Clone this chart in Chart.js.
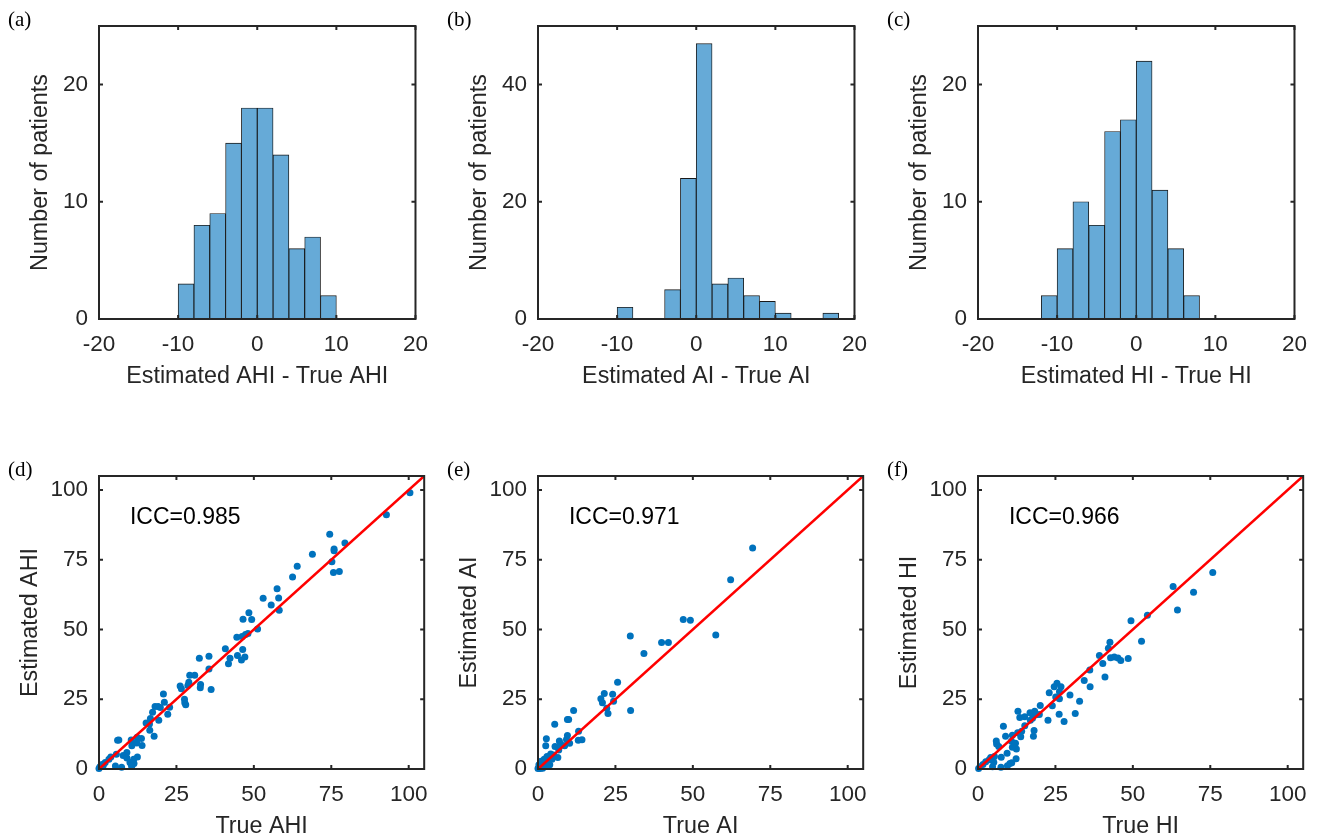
<!DOCTYPE html>
<html>
<head>
<meta charset="utf-8">
<script src="https://cdn.jsdelivr.net/npm/chart.js@4.4.0/dist/chart.umd.min.js"></script>
<style>
  html, body { margin: 0; padding: 0; background: #fff; overflow: hidden; }
  body { width: 1329px; height: 839px; position: relative; }
  canvas { position: absolute; }
</style>
</head>
<body>
<canvas id="histAHI" width="440" height="420" style="left:0;top:0"></canvas>
<canvas id="histAI" width="440" height="420" style="left:439px;top:0"></canvas>
<canvas id="histHI" width="440" height="420" style="left:879px;top:0"></canvas>
<canvas id="dispAHI" width="440" height="420" style="left:0;top:450px"></canvas>
<canvas id="dispAI" width="440" height="420" style="left:439px;top:450px"></canvas>
<canvas id="dispHI" width="440" height="420" style="left:879px;top:450px"></canvas>
<script>
// histogramas: centro de cada bin (largura 2) e contagem de pacientes
const binsAHI = [-9, -7, -5, -3, -1, 1, 3, 5, 7, 9];
const countsAHI = [3, 8, 9, 15, 18, 18, 14, 6, 7, 2];
const binsAI = [-9, -3, -1, 1, 3, 5, 7, 9, 11, 17];
const countsAI = [2, 5, 24, 47, 6, 7, 4, 3, 1, 1];
const binsHI = [-11, -9, -7, -5, -3, -1, 1, 3, 5, 7];
const countsHI = [2, 6, 10, 8, 16, 17, 22, 11, 6, 2];

// dispersao: valor real x estimado
const trueAHI = [100.4, 92.8, 74.5, 79.4, 75.9, 75.9, 75.2, 75.7, 77.6, 68.9, 64.0, 62.5, 57.5, 53.0, 58.0, 55.6, 58.2, 48.4, 46.5, 49.3, 51.2, 48.1, 46.2, 44.5, 47.3, 40.8, 46.4, 44.7, 47.1, 46.0, 42.3, 41.8, 35.5, 32.4, 35.5, 36.2, 29.3, 30.9, 29.0, 28.7, 32.8, 32.7, 26.2, 26.6, 27.6, 28.0, 27.7, 20.8, 21.1, 22.8, 22.2, 18.1, 19.1, 19.8, 17.3, 16.6, 19.3, 15.2, 16.3, 16.4, 17.8, 13.7, 12.3, 13.9, 10.9, 10.4, 10.6, 12.2, 6.0, 6.4, 9.0, 7.8, 5.6, 3.8, 3.2, 2.0, 1.0, 0.3, 0.0, 1.4, 5.3, 7.3, 12.4, 11.2, 10.0, 10.7, 11.3, 10.5, 9.0];
const estAHI = [99.0, 91.1, 84.1, 81.0, 78.8, 78.2, 74.3, 70.4, 70.8, 77.0, 72.7, 68.8, 64.6, 61.2, 61.3, 58.8, 56.9, 56.0, 53.7, 53.6, 50.2, 48.6, 47.5, 47.2, 48.2, 43.1, 42.8, 40.7, 40.1, 39.1, 39.7, 37.7, 40.4, 39.7, 35.8, 28.5, 33.6, 33.6, 31.1, 29.9, 30.3, 29.1, 29.7, 28.8, 25.0, 23.0, 23.7, 26.9, 23.9, 22.1, 19.6, 22.4, 22.4, 22.0, 20.3, 18.1, 17.5, 16.5, 16.1, 13.9, 11.7, 10.9, 11.4, 8.4, 9.2, 10.4, 8.3, 9.3, 10.3, 10.4, 5.9, 4.8, 5.3, 4.3, 3.5, 2.3, 1.6, 0.8, 0.2, 1.3, 1.1, 0.6, 4.3, 3.5, 2.3, 1.3, 2.0, 1.1, 3.9];

const trueAI = [69.3, 62.2, 46.9, 49.2, 57.4, 29.8, 39.9, 42.1, 34.2, 25.7, 21.4, 24.1, 20.3, 20.8, 24.4, 22.2, 22.6, 29.9, 11.5, 9.5, 9.9, 5.4, 13.1, 9.5, 13.0, 14.2, 2.7, 2.5, 6.9, 9.2, 10.2, 5.5, 7.3, 8.6, 6.7, 6.4, 4.1, 2.9, 2.5, 1.8, 1.1, 0.5, 0.2, 1.3, 2.1, 3.4, 1.6, 0.7, 0.0, 0.8, 1.5, 2.2, 3.0, 0.3, 4.5, 3.8, 1.0, 5.0, 2.0];
const estAI = [79.2, 67.8, 53.6, 53.3, 48.0, 47.7, 45.3, 45.3, 41.4, 31.1, 27.1, 26.8, 25.2, 23.7, 24.3, 21.8, 19.9, 21.0, 21.0, 17.7, 17.7, 16.0, 13.5, 12.0, 10.3, 10.5, 10.8, 8.3, 10.0, 10.6, 9.2, 8.1, 9.0, 8.3, 6.8, 4.1, 5.4, 4.5, 3.5, 2.8, 1.8, 1.0, 0.4, 1.2, 2.0, 2.8, 0.6, 0.2, 0.2, 0.5, 0.3, 1.0, 2.0, 1.5, 3.5, 1.5, 2.8, 5.0, 3.5];

const trueHI = [75.8, 63.0, 69.6, 64.4, 54.7, 49.4, 52.8, 42.6, 42.1, 39.2, 40.3, 42.8, 44.0, 45.2, 46.1, 48.5, 36.1, 41.0, 34.3, 36.2, 29.7, 32.8, 31.4, 25.5, 24.6, 26.8, 23.0, 26.3, 25.1, 26.3, 24.0, 26.2, 27.8, 20.1, 22.6, 12.9, 13.5, 15.1, 16.8, 18.3, 18.8, 17.6, 19.8, 16.9, 15.1, 18.1, 17.9, 8.2, 8.9, 11.1, 12.8, 13.8, 14.1, 5.9, 6.0, 6.7, 10.8, 12.1, 12.4, 11.1, 9.4, 7.5, 5.3, 4.1, 3.6, 2.5, 1.6, 0.7, 0.2, 4.7, 7.4, 9.5, 10.9, 12.3, 10.3, 5.1];
const estHI = [70.4, 65.4, 63.3, 57.0, 55.1, 53.1, 45.8, 45.4, 43.3, 40.7, 37.8, 39.9, 40.1, 39.8, 38.9, 39.6, 35.5, 33.0, 31.7, 29.5, 26.5, 24.3, 19.9, 30.7, 29.5, 29.5, 27.3, 27.7, 25.8, 25.2, 22.7, 19.6, 17.0, 22.8, 17.5, 20.7, 18.5, 18.7, 20.2, 20.7, 19.4, 18.2, 19.5, 17.5, 15.5, 13.8, 11.7, 15.3, 11.7, 12.1, 13.0, 11.6, 13.5, 10.0, 9.0, 8.1, 9.9, 9.2, 7.2, 7.8, 5.6, 4.2, 4.5, 4.1, 3.3, 2.6, 1.6, 0.8, 0.2, 0.8, 0.6, 1.2, 2.2, 3.7, 2.0, 2.4];

const iccValues = ["ICC=0.985", "ICC=0.971", "ICC=0.966"];
const identityLine = [0, 105];

const corEixo = "#262626";
const fonte = "'Liberation Sans', Arial, sans-serif";

// caixa fechada com ticks pra dentro, rotulo do painel e texto do ICC
const moldura = {
  id: "moldura",
  afterDatasetsDraw(chart, args, opts) {
    const { ctx, chartArea: a, scales } = chart;
    const sx = scales.x, sy = scales.y;
    ctx.save();
    ctx.strokeStyle = corEixo;
    ctx.lineWidth = 2;
    ctx.beginPath();
    sx.ticks.forEach((t) => {
      const px = sx.getPixelForValue(t.value);
      ctx.moveTo(px, a.bottom); ctx.lineTo(px, a.bottom - 4);
      ctx.moveTo(px, a.top); ctx.lineTo(px, a.top + 4);
    });
    sy.ticks.forEach((t) => {
      const py = sy.getPixelForValue(t.value);
      ctx.moveTo(a.left, py); ctx.lineTo(a.left + 4, py);
      ctx.moveTo(a.right, py); ctx.lineTo(a.right - 4, py);
    });
    ctx.stroke();
    ctx.strokeRect(a.left, a.top, a.right - a.left, a.bottom - a.top);

    if (opts.nota) {
      ctx.fillStyle = "#000";
      ctx.font = "23px " + fonte;
      ctx.textAlign = "left";
      ctx.textBaseline = "middle";
      ctx.fillText(opts.nota, sx.getPixelForValue(10), sy.getPixelForValue(90));
    }
    ctx.fillStyle = "#000";
    ctx.font = "21px 'Liberation Serif', 'Times New Roman', serif";
    ctx.textAlign = "left";
    ctx.textBaseline = "middle";
    ctx.fillText(opts.letra, 8, 20);
    ctx.restore();
  },
};

function eixo(min, max, passo, titulo, tituloPad, tamanho, horizontal) {
  return {
    type: "linear",
    min,
    max,
    offset: false,
    grid: { display: false, drawTicks: false },
    border: { display: false },
    ticks: {
      stepSize: passo,
      includeBounds: false,
      maxRotation: 0,
      autoSkip: false,
      padding: horizontal ? 12 : 11,
      color: corEixo,
      font: { family: fonte, size: 22.5 },
    },
    title: {
      display: true,
      text: titulo,
      color: corEixo,
      font: { family: fonte, size: 23.3 },
      padding: tituloPad,
    },
    afterFit: (s) => {
      if (horizontal) s.height = tamanho;
      else s.width = tamanho;
    },
  };
}

const layoutBase = { padding: { top: 26, right: 11, left: 0, bottom: 0 } };

function histograma(id, bins, counts, maxY, passoY, tituloX, letra) {
  new Chart(document.getElementById(id), {
    type: "bar",
    data: {
      datasets: [
        {
          data: bins.map((b, i) => ({ x: b, y: counts[i] })),
          backgroundColor: "rgb(102,170,215)",
          borderColor: "rgba(0,0,0,0.9)",
          borderWidth: 0.9,
          borderSkipped: "start",
          categoryPercentage: 1,
          barPercentage: 1,
        },
      ],
    },
    options: {
      responsive: false,
      animation: false,
      layout: layoutBase,
      plugins: { legend: { display: false }, tooltip: { enabled: false }, moldura: { letra } },
      scales: {
        x: eixo(-20, 20, 10, tituloX, { top: 0, bottom: 29 }, 101, true),
        y: eixo(0, maxY, passoY, "Number of patients", { top: 27, bottom: 0 }, 99, false),
      },
    },
    plugins: [moldura],
  });
}

function dispersao(id, reais, estimados, tituloX, tituloY, nota, letra) {
  new Chart(document.getElementById(id), {
    type: "scatter",
    data: {
      datasets: [
        {
          type: "line",
          data: identityLine.map((v) => ({ x: v, y: v })),
          borderColor: "#ff0000",
          borderWidth: 2.5,
          pointRadius: 0,
        },
        {
          data: reais.map((v, i) => ({ x: v, y: estimados[i] })),
          backgroundColor: "#0072BD",
          borderWidth: 0,
          pointRadius: 3.5,
          clip: 5,
        },
      ],
    },
    options: {
      responsive: false,
      animation: false,
      layout: layoutBase,
      plugins: { legend: { display: false }, tooltip: { enabled: false }, moldura: { letra, nota } },
      scales: {
        x: eixo(0, 105, 25, tituloX, { top: 0, bottom: 29 }, 101, true),
        y: eixo(0, 105, 25, tituloY, { top: 17, bottom: 0 }, 99, false),
      },
    },
    plugins: [moldura],
  });
}

histograma("histAHI", binsAHI, countsAHI, 25, 10, "Estimated AHI - True AHI", "(a)");
histograma("histAI", binsAI, countsAI, 50, 20, "Estimated AI - True AI", "(b)");
histograma("histHI", binsHI, countsHI, 25, 10, "Estimated HI - True HI", "(c)");

dispersao("dispAHI", trueAHI, estAHI, "True AHI", "Estimated AHI", iccValues[0], "(d)");
dispersao("dispAI", trueAI, estAI, "True AI", "Estimated AI", iccValues[1], "(e)");
dispersao("dispHI", trueHI, estHI, "True HI", "Estimated HI", iccValues[2], "(f)");
</script>
</body>
</html>
